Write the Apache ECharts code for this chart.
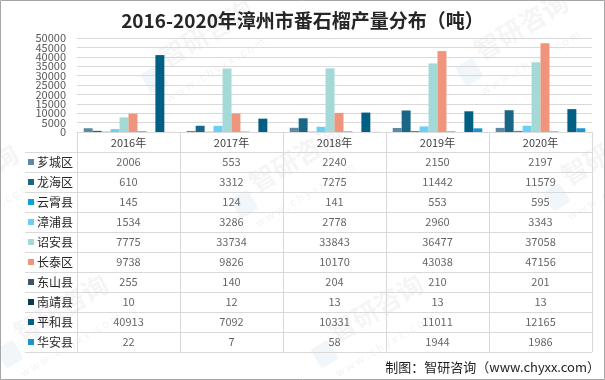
<!DOCTYPE html>
<html>
<head>
<meta charset="utf-8">
<script src="https://cdn.jsdelivr.net/npm/echarts@6/dist/echarts.min.js"></script>
<style>
html,body{margin:0;padding:0;background:#fff;}
#c{width:605px;height:380px;}
</style>
</head>
<body>
<div id="c"></div>
<script>
// ---- data ----
const years = ['2016年', '2017年', '2018年', '2019年', '2020年'];
const districts = ['芗城区', '龙海区', '云霄县', '漳浦县', '诏安县', '长泰区', '东山县', '南靖县', '平和县', '华安县'];
const xiangcheng = [2006, 553, 2240, 2150, 2197];
const longhai = [610, 3312, 7275, 11442, 11579];
const yunxiao = [145, 124, 141, 553, 595];
const zhangpu = [1534, 3286, 2778, 2960, 3343];
const zhaoan = [7775, 33734, 33843, 36477, 37058];
const changtai = [9738, 9826, 10170, 43038, 47156];
const dongshan = [255, 140, 204, 210, 201];
const nanjing = [10, 12, 13, 13, 13];
const pinghe = [40913, 7092, 10331, 11011, 12165];
const huaan = [22, 7, 58, 1944, 1986];
const yMin = 0, yMax = 50000, yStep = 5000;
const title = '2016-2020年漳州市番石榴产量分布（吨）';
const source = '制图：智研咨询（www.chyxx.com）';

// ---- style ----
const seriesValues = [xiangcheng, longhai, yunxiao, zhangpu, zhaoan, changtai, dongshan, nanjing, pinghe, huaan];
const colors = ['#5d89a3', '#1a6687', '#0aa2dc', '#6bcff5', '#a3d9d7', '#ef957c', '#3a5468', '#053c50', '#005f82', '#1796cf'];
const FONT = '"Noto Sans CJK SC", "Noto Sans", sans-serif';
const lineColor = '#d9d9d9';

const chart = echarts.init(document.getElementById('c'), null, {renderer: 'canvas'});

const barSeries = districts.map((name, i) => ({
  name: name,
  type: 'bar',
  xAxisIndex: 0,
  yAxisIndex: 0,
  data: seriesValues[i],
  barGap: '0%',
  barCategoryGap: '13%',
  itemStyle: {color: colors[i]},
  emphasis: {disabled: true},
  silent: true
}));

const cellData = [];
districts.forEach((d, i) => {
  years.forEach((y, j) => {
    cellData.push([y, d, seriesValues[i][j]]);
  });
});

const rich = {n: {fontSize: 12, color: '#262626', fontFamily: FONT, padding: [0, 0, 0, 3]}};
colors.forEach((c, i) => {
  rich['s' + i] = {width: 6, height: 6, backgroundColor: c};
});

// watermarks
function watermark(x, y) {
  return {
    type: 'group',
    x: x, y: y,
    rotation: 31 * Math.PI / 180,
    z: 100,
    silent: true,
    children: [
      {type: 'rect', shape: {x: -10, y: -12, width: 20, height: 22, r: 3},
       style: {fill: 'rgba(120,165,215,0.10)'}},
      {type: 'text', x: 16, y: -14,
       style: {text: '智研咨询', font: 'bold 26px ' + FONT, fill: 'rgba(110,120,135,0.07)', textVerticalAlign: 'middle'}},
      {type: 'text', x: 0, y: 22,
       style: {text: 'w w w . c h y x x . c o m', font: '11px ' + FONT, fill: 'rgba(110,120,135,0.09)', textVerticalAlign: 'middle'}}
    ]
  };
}
const wmPos = [[155, 80], [470, 73], [245, 205], [557, 198], [10, 355], [325, 355], [-80, 225]];

const yLabelStyle = {margin: 11, color: '#595959', fontSize: 11, fontFamily: FONT};

const option = {
  animation: false,
  backgroundColor: '#fff',
  title: {
    text: title,
    left: 'center',
    top: 6,
    textStyle: {fontFamily: FONT, fontSize: 19, fontWeight: 'bold', color: '#262626'}
  },
  grid: [
    {left: 77, right: 13, top: 38, bottom: 248},
    {left: 77, right: 13, top: 152, bottom: 28}
  ],
  xAxis: [
    {
      type: 'category', gridIndex: 0, data: years,
      axisLine: {show: true, lineStyle: {color: lineColor}},
      axisTick: {show: true, length: 20, interval: 0, lineStyle: {color: lineColor}},
      axisLabel: {margin: 5, color: '#404040', fontSize: 11, fontFamily: FONT, interval: 0},
      splitLine: {show: false}
    },
    {
      type: 'category', gridIndex: 1, data: years, position: 'top',
      axisLine: {show: true, lineStyle: {color: lineColor}},
      axisTick: {show: false},
      axisLabel: {show: false},
      splitLine: {show: true, interval: 0, lineStyle: {color: lineColor}}
    }
  ],
  yAxis: [
    {
      type: 'value', gridIndex: 0, min: yMin, max: yMax, interval: yStep,
      axisLine: {show: false}, axisTick: {show: false},
      axisLabel: Object.assign({}, yLabelStyle, {
        showMinLabel: true, showMaxLabel: true,
        formatter: v => (v % (2 * yStep) === 0 ? String(v) : '')
      }),
      splitLine: {show: true, lineStyle: {color: lineColor}}
    },
    {
      type: 'category', gridIndex: 1, data: districts, inverse: true,
      axisLine: {show: true, lineStyle: {color: lineColor}},
      axisTick: {show: true, length: 52, interval: 0, lineStyle: {color: lineColor}},
      axisLabel: {
        interval: 0, align: 'left', margin: 49,
        formatter: (v, i) => '{s' + i + '|}{n|' + v + '}',
        rich: rich
      },
      splitLine: {show: true, interval: 0, lineStyle: {color: lineColor}}
    },
    {
      type: 'category', gridIndex: 1, data: districts, inverse: true, offset: 52,
      axisLine: {show: true, lineStyle: {color: lineColor}},
      axisTick: {show: false}, axisLabel: {show: false}, splitLine: {show: false}
    },
    {
      type: 'value', gridIndex: 0, min: yMin, max: yMax, interval: yStep, position: 'left',
      axisLine: {show: false}, axisTick: {show: false}, splitLine: {show: false},
      axisLabel: Object.assign({}, yLabelStyle, {
        showMinLabel: false, showMaxLabel: false,
        formatter: v => (v % (2 * yStep) !== 0 ? String(v) : '')
      })
    }
  ],
  series: barSeries.concat([{
    type: 'scatter',
    xAxisIndex: 1, yAxisIndex: 1,
    data: cellData,
    symbolSize: 1,
    itemStyle: {color: 'rgba(0,0,0,0)'},
    silent: true,
    label: {
      show: true, position: 'inside',
      formatter: p => String(p.value[2]),
      color: '#404040', fontSize: 11, fontFamily: FONT
    }
  }]),
  graphic: [
    {type: 'rect', silent: true, z: 200, shape: {x: 0.5, y: 0.5, width: 604, height: 379},
     style: {fill: 'none', stroke: '#a6a6a6', lineWidth: 1}},
    {type: 'text', right: 5, top: 361, z: 50, silent: true,
     style: {text: source, font: '13px ' + FONT, fill: '#1f1f1f'}}
  ].concat(wmPos.map(p => watermark(p[0], p[1])))
};

chart.setOption(option);
</script>
</body>
</html>
